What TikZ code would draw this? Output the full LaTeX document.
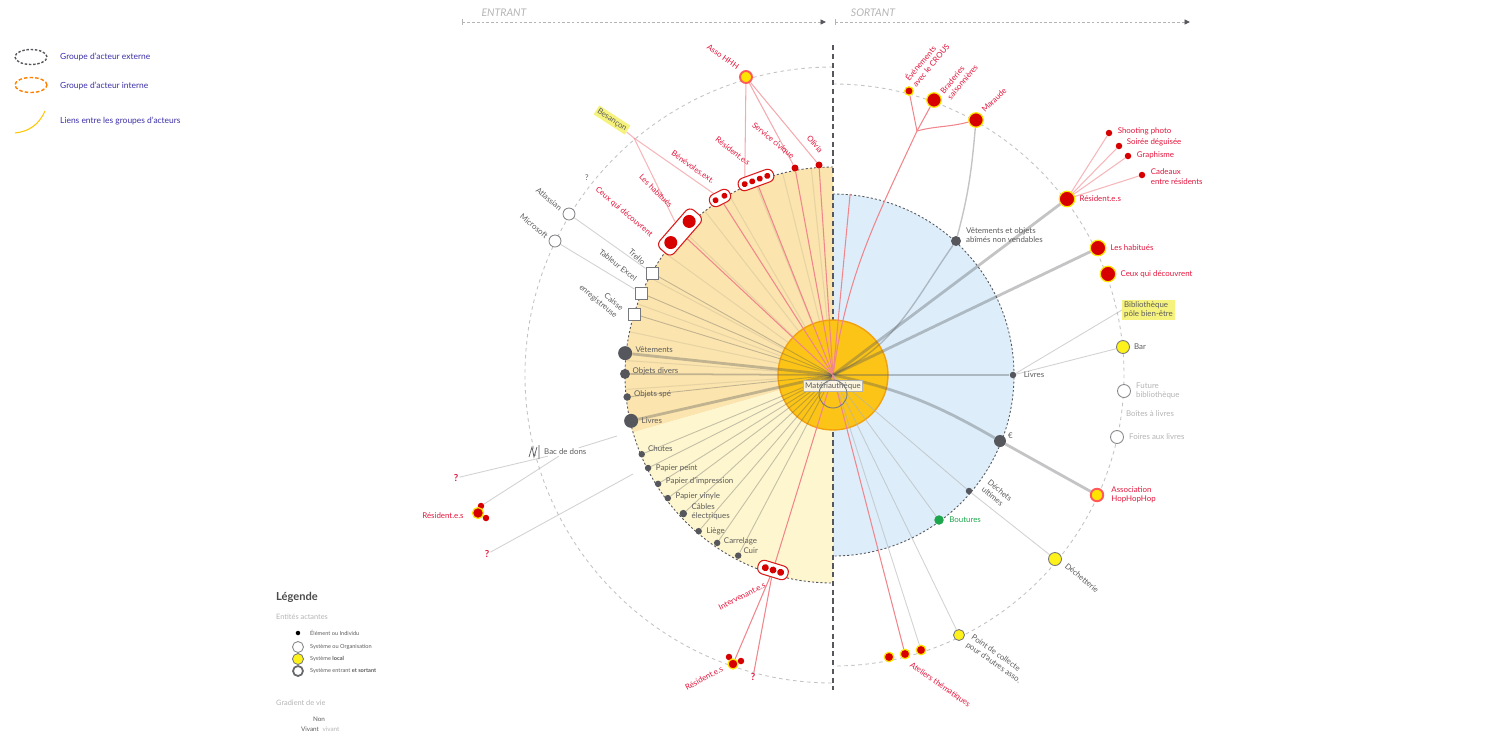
\documentclass[tikz,border=0pt]{standalone}
\usepackage{fontspec}
\setmainfont{Lato}
\usetikzlibrary{positioning,arrows.meta,backgrounds}

\definecolor{dotgrey}{HTML}{55575C}
\definecolor{txtgrey}{HTML}{5C5C5C}
\definecolor{faintgrey}{HTML}{B4B4B4}
\definecolor{txtred}{HTML}{E2163C}
\definecolor{dotred}{HTML}{D70000}
\definecolor{ringyellow}{HTML}{FFE400}
\definecolor{linered}{HTML}{F0868C}
\definecolor{fanorange}{HTML}{FBE4AD}
\definecolor{fanyellow}{HTML}{FEF6CE}
\definecolor{fanblue}{HTML}{DDEEFA}
\definecolor{corefill}{HTML}{FBC417}
\definecolor{coredraw}{HTML}{F2A10E}
\definecolor{localyellow}{HTML}{FFF21A}
\definecolor{legblue}{HTML}{3A2EA6}
\definecolor{greenb}{HTML}{1DA64B}
\definecolor{marker}{HTML}{F6F27E}

\begin{document}
\begin{tikzpicture}[
    x=0.02cm, y=0.02cm,
    every node/.style={font=\fontsize{4.5}{5.3}\selectfont, inner sep=.5pt},
    grey_dot/.style={circle, fill=dotgrey, inner sep=0pt, minimum size=#1},
    grey_dot/.default=1.3mm,
    red_dot/.style={circle, fill=dotred, inner sep=0pt, minimum size=#1},
    red_dot/.default=1.3mm,
    ring_dot/.style={circle, fill=dotred, draw=ringyellow, line width=.7pt, inner sep=0pt, minimum size=#1},
    ring_dot/.default=3mm,
    local_sys/.style={circle, fill=localyellow, draw=dotgrey!80, line width=.5pt, inner sep=0pt, minimum size=#1},
    local_sys/.default=2.6mm,
    org_sys/.style={circle, fill=white, draw=dotgrey!70, line width=.5pt, inner sep=0pt, minimum size=2.4mm},
    asso_sys/.style={circle, fill=ringyellow, draw=red!65, line width=1.1pt, inner sep=0pt, minimum size=2.2mm},
    tool_box/.style={rectangle, fill=white, draw=dotgrey!80, line width=.5pt, inner sep=0pt, minimum size=2.4mm},
    red_group/.style={rectangle, rounded corners=1.2mm, fill=white, draw=dotred!90, line width=.6pt},
    lab_grey/.style={text=txtgrey},
    lab_faint/.style={text=faintgrey},
    lab_red/.style={text=txtred},
    leg_text/.style={text=legblue, font=\fontsize{4.8}{5.6}\selectfont},
    ray_grey/.style={draw=dotgrey, opacity=.35, line width=#1},
    ray_grey/.default=.5pt,
    ray_red/.style={draw=linered, line width=.6pt},
    ray_faint/.style={draw=faintgrey, opacity=.6, line width=.5pt},
    outer_ring/.style={draw=faintgrey, opacity=.8, line width=.5pt, dash pattern=on 2pt off 2pt},
    flow_arrow/.style={draw=faintgrey, line width=.5pt, dash pattern=on 1.5pt off 1.2pt, {Bar[width=1.2mm]}-{Triangle[length=1.1mm, width=1mm, color=dotgrey]}}
]
    \useasboundingbox (-833,-356) rectangle (654,375);

    % legende haut
    \draw[dotgrey, line width=.8pt, dash pattern=on 1.4pt off 1pt] (-802,318) ellipse [x radius=16, y radius=7.5];
    \node[leg_text, anchor=west] (leg_ext) at (-774,318) {Groupe d'acteur externe};
    \draw[orange, line width=.8pt, dash pattern=on 2pt off 1.2pt] (-802,290) ellipse [x radius=16, y radius=7.5];
    \node[leg_text, anchor=west] (leg_int) at (-774,289) {Groupe d'acteur interne};
    \draw[ringyellow!70!orange, line width=.6pt] (-818,242) to[bend right=30] (-788,264);
    \node[leg_text, anchor=west] (leg_link) at (-774,254) {Liens entre les groupes d'acteurs};

    % entrant / sortant
    \coordinate (in_start) at (-371,353);
    \coordinate (in_end) at (-7,353);
    \coordinate (out_start) at (2,353);
    \coordinate (out_end) at (357,353);
    \draw[flow_arrow] (in_start) -- (in_end);
    \draw[flow_arrow] (out_start) -- (out_end);
    \node[lab_faint, font=\fontsize{6}{7}\selectfont\itshape] (entrant) at (-329,362) {ENTRANT};
    \node[lab_faint, font=\fontsize{6}{7}\selectfont\itshape] (sortant) at (40,362) {SORTANT};

    % entrants sur le disque
    \node[grey_dot=2.8mm] (vetements) at (174:209) {};
    \node[grey_dot=2mm] (obj_divers) at (179.7:208) {};
    \node[grey_dot=1.5mm] (obj_spe) at (186.1:207) {};
    \node[grey_dot=2.8mm] (livres_in) at (192.8:207) {};
    \node[grey_dot] (chutes) at (202.5:207) {};
    \node[grey_dot] (papier_peint) at (206.7:207) {};
    \node[grey_dot] (papier_imp) at (211.9:206) {};
    \node[grey_dot] (papier_vin) at (216.7:206) {};
    \node[grey_dot=1.5mm] (cables) at (222.8:204) {};
    \node[grey_dot] (liege) at (229.3:206) {};
    \node[grey_dot] (carrelage) at (235.4:204) {};
    \node[grey_dot] (cuir) at (242.3:204) {};
    \node[lab_grey, right=.4mm of vetements, yshift=.6mm] (vetements_t) {Vêtements};
    \node[lab_grey, right=.2mm of obj_divers, yshift=.5mm] (obj_divers_t) {Objets divers};
    \node[lab_grey, right=.3mm of obj_spe, yshift=.5mm] (obj_spe_t) {Objets spé};
    \node[lab_grey, right=.4mm of livres_in] (livres_in_t) {Livres};
    \node[lab_grey, right=.3mm of chutes, yshift=1.1mm] (chutes_t) {Chutes};
    \node[lab_grey, right=.6mm of papier_peint] (papier_peint_t) {Papier peint};
    \node[lab_grey, right=.6mm of papier_imp, yshift=.5mm] (papier_imp_t) {Papier d'impression};
    \node[lab_grey, right=.6mm of papier_vin, yshift=.3mm] (papier_vin_t) {Papier vinyle};
    \node[lab_grey, right=.6mm of cables, yshift=.4mm, align=left] (cables_t) {Câbles\\électriques};
    \node[lab_grey, right=.6mm of liege] (liege_t) {Liège};
    \node[lab_grey, right=.4mm of carrelage, yshift=.3mm] (carrelage_t) {Carrelage};
    \node[lab_grey, right=.1mm of cuir, yshift=1mm] (cuir_t) {Cuir};

    % outils et organisations
    \node[tool_box] (trello) at (-181,102) {};
    \node[tool_box] (tableur) at (-192,82) {};
    \node[tool_box] (caisse) at (-199,61) {};
    \node[lab_grey, rotate=-42] (trello_t) at (-196,118) {Trello};
    \node[lab_grey, rotate=-38] (tableur_t) at (-215,110) {Tableur Excel};
    \node[lab_grey, rotate=-40, align=right] (caisse_t) at (-232,77) {Caisse\\enregistreuse};
    \node[org_sys] (atlassian) at (-264,161) {};
    \node[org_sys] (microsoft) at (-278,134) {};
    \node[lab_grey, rotate=-40] (atlassian_t) at (-284,176) {Atlassian};
    \node[lab_grey, rotate=-40] (microsoft_t) at (-299,149) {Microsoft};
    \node[lab_grey] (q_tools) at (-246,197) {?};

    % groupes internes
    \begin{scope}[shift={(-153,143)}, rotate=49, transform shape]
        \node[red_group, minimum width=10.2mm, minimum height=3.8mm] (grp_big) {};
        \node[red_dot=2.6mm] (big_a) at (-14,0) {};
        \node[red_dot=2.6mm] (big_b) at (14,0) {};
    \end{scope}
    \begin{scope}[shift={(-113,177)}, rotate=27, transform shape]
        \node[red_group, minimum width=4.4mm, minimum height=2.6mm] (grp_two) {};
        \node[red_dot=1.2mm] (two_a) at (-5,0) {};
        \node[red_dot=1.2mm] (two_b) at (5,0) {};
    \end{scope}
    \begin{scope}[shift={(-77,195)}, rotate=20, transform shape]
        \node[red_group, minimum width=7.4mm, minimum height=2.6mm] (grp_four) {};
        \node[red_dot=1.2mm] (four_a) at (-12,0) {};
        \node[red_dot=1.2mm] (four_b) at (-4,0) {};
        \node[red_dot=1.2mm] (four_c) at (4,0) {};
        \node[red_dot=1.2mm] (four_d) at (12,0) {};
    \end{scope}
    \begin{scope}[shift={(-60,-195)}, rotate=-17, transform shape]
        \node[red_group, minimum width=6.2mm, minimum height=2.8mm] (grp_interv) {};
        \node[red_dot=1.4mm] (interv_a) at (-8,0) {};
        \node[red_dot=1.4mm] (interv_b) at (0,0) {};
        \node[red_dot=1.4mm] (interv_c) at (8,0) {};
    \end{scope}
    \node[red_dot=1.4mm] (dot_sc) at (-38,207) {};
    \node[red_dot=1.4mm] (dot_ol) at (-14,210) {};
    \node[asso_sys, minimum size=2.4mm] (asso_hhh) at (-87,298) {};
    \node[lab_red, rotate=-35] (asso_hhh_t) at (-110,318) {Asso HHH};
    \node[lab_red, rotate=-40] (service_t) at (-60,234) {Service civique};
    \node[lab_red, rotate=-50] (olivia_t) at (-18,231) {Olivia};
    \node[lab_red, rotate=-38] (resident_in_t) at (-100,224) {Résident.e.s};
    \node[lab_red, rotate=-35] (benevoles_t) at (-140,208) {Bénévoles.ext.};
    \node[lab_red, rotate=-45] (habitues_in_t) at (-177,184) {Les habitués};
    \node[lab_red, rotate=-40] (ceux_in_t) at (-209,163) {Ceux qui découvrent};
    \node[lab_grey, fill=marker, rotate=-33, inner sep=1pt] (besancon) at (-221,255) {Besançon};
    \coordinate (besancon_fork) at (-199,237);
    \node[lab_red, rotate=27] (interv_t) at (-91,-221) {Intervenant.e.s};

    % residents bas gauche
    \node[red_dot=1.3mm] (rb_a) at (-104,-282) {};
    \node[ring_dot=2mm] (rb_b) at (-100,-289) {};
    \node[red_dot=1.3mm] (rb_c) at (-92,-286) {};
    \node[lab_red, rotate=28] (rb_t) at (-129,-303) {Résident.e.s};
    \node[lab_red, font=\fontsize{5.5}{6}\selectfont\bfseries] (q_b) at (-80,-302) {?};

    % bac de dons et residents gauche
    \draw[dotgrey, line width=.4pt] (-304,-82) -- (-301,-72) -- (-299,-82) -- (-296,-72) (-294,-70) -- (-294,-84);
    \node[lab_grey, anchor=west] (bac) at (-290,-77) {Bac de dons};
    \coordinate (bac_in) at (-216,-61);
    \coordinate (q_in) at (-200,-99);
    \node[red_dot=1.3mm] (rl_a) at (-352,-131) {};
    \node[ring_dot=2.2mm] (rl_b) at (-355,-138) {};
    \node[red_dot=1.3mm] (rl_c) at (-347,-143) {};
    \node[lab_red, left=1.4mm of rl_b, yshift=-.6mm] (rl_t) {Résident.e.s};
    \node[lab_red, font=\fontsize{5.5}{6}\selectfont\bfseries] (q_l1) at (-377,-103) {?};
    \node[lab_red, font=\fontsize{5.5}{6}\selectfont\bfseries] (q_l2) at (-346,-179) {?};

    % sortants sur le disque
    \node[grey_dot=2mm] (vet_abimes) at (123,134) {};
    \node[lab_grey, anchor=west, align=left] (vet_abimes_t) at (132,140) {Vêtements et objets\\abîmés non vendables};
    \node[grey_dot=1.3mm] (livres_out) at (180,0) {};
    \node[lab_grey, right=1.2mm of livres_out] (livres_out_t) {Livres};
    \node[grey_dot=2.4mm] (euro) at (167,-66) {};
    \node[lab_grey, above right=-.6mm and .5mm of euro] (euro_t) {€};
    \node[grey_dot=1.3mm] (dechets) at (136,-116) {};
    \node[lab_grey, rotate=-40, align=left] (dechets_t) at (164,-119) {Déchets\\ultimes};
    \node[circle, fill=greenb, inner sep=0pt, minimum size=1.9mm] (boutures) at (106,-145) {};
    \node[text=greenb, right=.8mm of boutures] (boutures_t) {Boutures};

    % acteurs sortants
    \node[ring_dot=1.7mm] (evenements) at (76,284) {};
    \node[ring_dot=2.9mm] (braderies) at (101,275) {};
    \node[ring_dot=2.9mm] (maraude) at (143,255) {};
    \node[lab_red, rotate=50, align=left] (evenements_t) at (94,313) {Événements\\avec le CROUS};
    \node[lab_red, rotate=50, align=left] (braderies_t) at (126,296) {Braderies\\saisonnières};
    \node[lab_red, rotate=45] (maraude_t) at (161,275) {Maraude};
    \coordinate (red_fork) at (84,244);
    \coordinate (red_top) at (84.6:182);
    \node[ring_dot=3.1mm] (resident_out) at (234,176) {};
    \node[lab_red, right=.6mm of resident_out] (resident_out_t) {Résident.e.s};
    \node[red_dot] (shooting) at (276,242) {};
    \node[red_dot] (soiree) at (286,229) {};
    \node[red_dot] (graphisme) at (295,219) {};
    \node[red_dot] (cadeaux) at (309,200) {};
    \node[lab_red, right=.8mm of shooting, yshift=.4mm] (shooting_t) {Shooting photo};
    \node[lab_red, right=.6mm of soiree, yshift=.8mm] (soiree_t) {Soirée déguisée};
    \node[lab_red, right=.8mm of graphisme, yshift=.2mm] (graphisme_t) {Graphisme};
    \node[lab_red, right=.8mm of cadeaux, yshift=-.3mm, align=left] (cadeaux_t) {Cadeaux\\entre résidents};
    \node[ring_dot=3.1mm] (habitues_out) at (265,127) {};
    \node[lab_red, right=.6mm of habitues_out] (habitues_out_t) {Les habitués};
    \node[ring_dot=3.1mm] (ceux_out) at (275,101) {};
    \node[lab_red, right=.6mm of ceux_out] (ceux_out_t) {Ceux qui découvrent};
    \node[lab_grey, fill=marker, anchor=west, align=left, inner sep=1pt] (biblio) at (289,65) {Bibliothèque\\pôle bien-être};
    \node[local_sys] (bar) at (290,28) {};
    \node[lab_grey, right=.6mm of bar] (bar_t) {Bar};
    \node[org_sys, minimum size=2.6mm] (future) at (291,-16) {};
    \node[lab_faint, right=.8mm of future, align=left] (future_t) {Future\\bibliothèque};
    \node[lab_faint] (boites_t) at (317,-39) {Boîtes à livres};
    \node[org_sys, minimum size=2.6mm] (foires) at (284,-62) {};
    \node[lab_faint, right=.8mm of foires] (foires_t) {Foires aux livres};
    \node[asso_sys, minimum size=2.5mm] (asso_hop) at (264,-120) {};
    \node[lab_red, right=1.2mm of asso_hop, align=left] (asso_hop_t) {Association\\HopHopHop};
    \node[local_sys] (decheterie) at (222,-184) {};
    \node[lab_grey, rotate=-40] (decheterie_t) at (249,-203) {Déchetterie};
    \node[local_sys=2.2mm] (point_collecte) at (126,-260) {};
    \node[lab_grey, rotate=-35, align=left] (point_collecte_t) at (163,-284) {Point de collecte\\pour d'autres asso.};
    \node[ring_dot=1.9mm] (at_a) at (56,-282) {};
    \node[ring_dot=1.9mm] (at_b) at (72,-279) {};
    \node[ring_dot=1.9mm] (at_c) at (88,-275) {};
    \node[lab_red, rotate=-35] (ateliers_t) at (107,-310) {Ateliers thématiques};

    % legende bas
    \node[anchor=west, text=txtgrey!80!black, font=\fontsize{6.3}{7}\selectfont\bfseries] (leg_title) at (-558,-222) {Légende};
    \node[anchor=west, lab_faint, font=\fontsize{4.2}{5}\selectfont] (leg_ent) at (-558,-242) {Entités actantes};
    \node[circle, fill=black, inner sep=0pt, minimum size=.9mm] (leg_elem) at (-535,-258) {};
    \node[org_sys, minimum size=2.2mm] (leg_org) at (-535,-272) {};
    \node[local_sys=2.2mm] (leg_local) at (-535,-284) {};
    \node[circle, draw=dotgrey!90, line width=1pt, inner sep=0pt, minimum size=2mm] (leg_io) at (-535,-296) {};
    \node[anchor=west, text=txtgrey, font=\fontsize{3.2}{4}\selectfont] (leg_elem_t) at (-524,-258) {Élément ou Individu};
    \node[anchor=west, text=txtgrey, font=\fontsize{3.2}{4}\selectfont] (leg_org_t) at (-524,-272) {Système ou Organisation};
    \node[anchor=west, text=txtgrey, font=\fontsize{3.2}{4}\selectfont] (leg_local_t) at (-524,-284) {Système \textbf{local}};
    \node[anchor=west, text=txtgrey, font=\fontsize{3.2}{4}\selectfont] (leg_io_t) at (-524,-296) {Système entrant \textbf{et sortant}};
    \node[anchor=west, lab_faint, font=\fontsize{4.2}{5}\selectfont] (leg_grad) at (-558,-328) {Gradient de vie};
    \node[text=txtgrey, font=\fontsize{3.6}{4}\selectfont] (leg_non) at (-514,-344) {Non};
    \node[text=txtgrey, font=\fontsize{3.6}{4}\selectfont] (leg_vivant) at (-523,-354) {Vivant};
    \node[lab_faint, font=\fontsize{3.6}{4}\selectfont] (leg_vivant_b) at (-502,-354) {vivant};

    % centre
    \node[lab_grey, fill=white, fill opacity=.85, text opacity=1, draw=faintgrey, line width=.3pt, inner sep=1pt] (core_t) at (0,-11) {Matériauthèque};
    \node[circle, draw=dotgrey!80, line width=.5pt, minimum size=5.6mm] (core_in) at (0,-19) {};

    \begin{scope}[on background layer]
        % disques
        \fill[fanorange] (0,0) -- (90:208) arc[start angle=90, end angle=196, radius=208] -- cycle;
        \fill[fanyellow] (0,0) -- (196:208) arc[start angle=196, end angle=270, radius=208] -- cycle;
        \fill[fanblue] (0,0) -- (-90:181) arc[start angle=-90, end angle=90, radius=181] -- cycle;
        \foreach \a in {96,104,...,190}
            \draw[dotgrey, opacity=.12, line width=.6pt] (\a:55) -- (\a:208);
        \draw[dotgrey, line width=.5pt, dash pattern=on 1.2pt off 1.2pt] (90:208) arc[start angle=90, end angle=270, radius=208];
        \draw[dotgrey, line width=.5pt, dash pattern=on 1.2pt off 1.2pt] (90:181) arc[start angle=90, end angle=-90, radius=181];
        \draw[outer_ring] (90:308) arc[start angle=90, end angle=270, radius=308];
        \draw[outer_ring] (90:291) arc[start angle=90, end angle=-90, radius=291];
        \coordinate (axis_top) at (0,330);
        \coordinate (axis_bot) at (0,-315);
        \draw[dotgrey, line width=1pt, dash pattern=on 3pt off 2pt] (axis_top) -- (axis_bot);
        \node[circle, fill=corefill, draw=coredraw, line width=.8pt, inner sep=0pt, minimum size=22mm] (core) at (0,0) {};

        % liens entrants
        \draw[ray_grey=1.6pt] (core.center) -- (vetements);
        \draw[ray_grey=1pt] (core.center) -- (obj_divers);
        \draw[ray_grey] (core.center) -- (obj_spe);
        \draw[ray_grey=1.6pt] (core.center) -- (livres_in);
        \draw[ray_grey] (core.center) -- (chutes);
        \draw[ray_grey] (core.center) -- (papier_peint);
        \draw[ray_grey] (core.center) -- (papier_imp);
        \draw[ray_grey] (core.center) -- (papier_vin);
        \draw[ray_grey] (core.center) -- (cables);
        \draw[ray_grey] (core.center) -- (liege);
        \draw[ray_grey] (core.center) -- (carrelage);
        \draw[ray_grey] (core.center) -- (cuir);
        \draw[ray_grey] (core.center) -- (trello);
        \draw[ray_grey] (core.center) -- (tableur);
        \draw[ray_grey] (core.center) -- (caisse);
        \draw[ray_faint] (atlassian) -- (trello);
        \draw[ray_faint] (microsoft) -- (tableur);
        \draw[ray_red] (core.center) -- (grp_big);
        \draw[ray_red] (core.center) -- (grp_two);
        \draw[ray_red] (core.center) -- (grp_four);
        \draw[ray_red] (core.center) -- (dot_sc);
        \draw[ray_red] (core.center) -- (dot_ol);
        \draw[ray_red, opacity=.7] (asso_hhh) -- (four_a);
        \draw[ray_red, opacity=.7] (asso_hhh) -- (dot_sc);
        \draw[ray_red, opacity=.7] (asso_hhh) -- (dot_ol);
        \draw[ray_red, opacity=.6] (besancon_fork) -- (grp_big);
        \draw[ray_red, opacity=.6] (besancon_fork) -- (grp_two);
        \draw[ray_red, opacity=.6] (besancon) -- (besancon_fork);
        \draw[ray_red] (core.center) -- (grp_interv);
        \draw[ray_red] (grp_interv) -- (rb_b);
        \draw[ray_red] (grp_interv) -- (q_b);
        \draw[ray_faint] (bac_in) -- (bac);
        \draw[ray_faint] (bac) -- (q_l1);
        \draw[ray_faint] (bac) -- (rl_a);
        \draw[ray_faint] (q_in) -- (q_l2);

        % liens sortants
        \draw[ray_grey=.8pt] (core.center) to[out=25, in=235] (vet_abimes) to[out=75, in=265] (maraude);
        \draw[ray_red] (core.center) to[out=82, in=245] (red_fork);
        \draw[ray_red] (core.center) -- (red_top);
        \draw[ray_red] (red_fork) -- (evenements);
        \draw[ray_red] (red_fork) -- (braderies);
        \draw[ray_red] (red_fork) to[out=15, in=195] (maraude);
        \draw[ray_grey=1.6pt] (core.center) -- (resident_out);
        \draw[ray_grey=1.6pt] (core.center) -- (habitues_out);
        \draw[ray_red, opacity=.6] (resident_out) -- (shooting);
        \draw[ray_red, opacity=.6] (resident_out) -- (soiree);
        \draw[ray_red, opacity=.6] (resident_out) -- (graphisme);
        \draw[ray_red, opacity=.6] (resident_out) -- (cadeaux);
        \draw[ray_grey=1.6pt] (core.center) -- (livres_out);
        \draw[ray_faint] (livres_out) -- (bar);
        \draw[ray_faint] (livres_out) -- (biblio.west);
        \draw[ray_grey=1.6pt] (core.center) to[out=-12, in=150] (euro);
        \draw[ray_grey=1.6pt] (euro) -- (asso_hop);
        \draw[ray_faint] (core.center) -- (dechets);
        \draw[ray_faint] (dechets) -- (decheterie);
        \draw[ray_faint] (core.center) -- (boutures);
        \draw[ray_faint] (core.center) -- (point_collecte);
        \draw[ray_faint] (core.center) -- (at_c);
        \draw[ray_red] (core.center) -- (at_b);
    \end{scope}
\end{tikzpicture}
\end{document}
